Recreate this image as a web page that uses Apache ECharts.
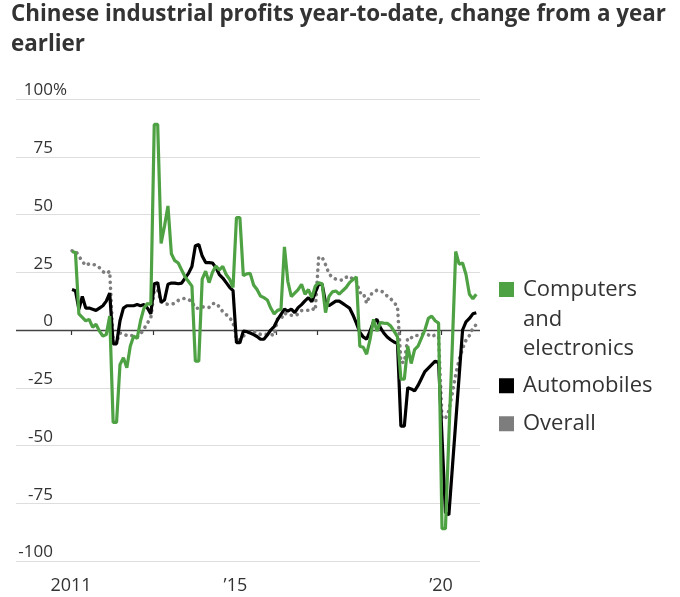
<!DOCTYPE html>
<html><head><meta charset="utf-8">
<script src="https://cdn.jsdelivr.net/npm/echarts@6/dist/echarts.min.js"></script>
<style>html,body{margin:0;padding:0;background:#fff}#c{width:680px;height:597px}</style>
</head><body><div id="c"></div>
<script>
// Monthly year-to-date values, Jan 2011 .. Nov 2020 (Jan shows the Jan-Feb figure)
const startYear = 2011;
const computers = [
  34, 33.5, 7, 5.5, 4, 4.6, 1.2, 2.5, -0.5, -2.6, -2, 6,
  -40, -40, -15, -12, -16.3, -7, -2.6, -3.7, 4, 9.5, 11.5, 11,
  89, 89, 37.5, 45, 53.7, 33, 30, 29, 26, 23, 21, 19,
  -13.5, -13.5, 22, 25.5, 20.5, 25, 27.7, 26, 27.5, 24, 22, 18.4,
  48.7, 48.7, 23.5, 24.3, 24.5, 19.5, 17.5, 14.7, 14, 13, 9.5, 7,
  8.5, 9, 36, 21, 14.5, 16, 17.5, 19.8, 15.5, 17.5, 14, 19,
  20.5, 20, 7.5, 14.5, 16.5, 16.9, 15.5, 17, 18.4, 20.5, 21.8, 23,
  -7, -7.5, -10.5, -4, 4.6, -0.5, 3.2, 3, 2.9, 1.8, -0.5, -3,
  -21.3, -21.3, -7, -14.5, -8.5, -7, -3.5, 0, 5, 6, 4, 3,
  -86, -86, -46, -7, 34, 28.5, 29, 24, 15.5, 13.5, 15.5
];
const automobiles = [
  17.5, 17, 9, 14.5, 9.5, 9.5, 9, 8.5, 9.5, 10.5, 12.5, 16,
  -6, -6, 4, 9.5, 10.5, 10.5, 10.5, 11, 10.5, 11, 9.5, 7,
  20, 20.5, 12, 13, 19.8, 20.3, 20.3, 20, 20.3, 22.5, 24.5, 27.5,
  36.5, 37, 32, 29.2, 29.2, 29, 27, 24, 22.5, 20.5, 18.5, 17,
  -5.5, -5.5, -0.5, -0.7, -1.3, -2, -2.8, -4, -4, -2.2, 0, 1.5,
  4.5, 6.8, 9, 8.2, 9, 7.5, 9.7, 11, 12.6, 14, 12.2, 16.2,
  20, 19.8, 12, 10.5, 11.5, 12.5, 12.5, 11.5, 10.5, 9.5, 6.5, 3,
  -1, -3, -4, -0.5, 3.5, 4.6, 1, -1.3, -3, -4.2, -5.2, -5.8,
  -41.6, -41.6, -25, -25.5, -26.4, -24, -21, -18, -16.5, -15, -13.5, -14,
  null, -79, -80, -60, -40, -20, 0, 3.5, 5, 7, 7.5
];
const overall = [
  34.3, 34.3, 32, 29.7, 27.9, 28.7, 28.3, 28.2, 27, 25.3, 24.4, 25.4,
  -5.2, -5.2, -1.3, -1.6, -2.4, -2.2, -2.7, -3.1, -1.8, 0.5, 3, 5.3,
  17.2, 17.2, 12.1, 11.4, 11.1, 11.1, 11.6, 12.8, 13.5, 13.7, 13.2, 12.2,
  9.4, 9.4, 10.1, 9.6, 9.8, 11.4, 11.6, 10, 7.9, 6.7, 5.3, 3.3,
  -4.2, -4.2, -2.7, -1.3, -0.8, -0.7, -1, -1.9, -1.7, -2, -1.9, -2.3,
  4.8, 4.8, 7.4, 6.5, 6.4, 6.2, 6.9, 8.4, 8.4, 8.6, 9.4, 8.5,
  31.5, 31.5, 28.3, 24.4, 22.7, 22, 21.6, 21.6, 22.8, 23.3, 21.9, 21,
  16.1, 16.1, 11.6, 15, 16.5, 17.2, 17.1, 16.2, 14.7, 13.6, 11.8, 10.3,
  -14, -14, -3.3, -3.4, -2.3, -2.4, -1.7, -1.7, -2.1, -2.9, -2.1, -3.3,
  -38.3, -38.3, -35, -27.4, -19.3, -12.8, -8.1, -4.4, -2.4, 0.7, 2.4
];
const tickYears = [2011, 2012, 2013, 2014, 2015, 2016, 2017, 2018, 2019, 2020];
const labelYears = [2011, 2015, 2020];
const names = ['Computers and electronics', 'Automobiles', 'Overall'];
const titleText = 'Chinese industrial profits year-to-date, change from a year\nearlier';

const GREEN = '#4fa244', BLACK = '#000000', GRAY = '#7d7d7d', TXT = '#333333';
const FONT = "'Open Sans', 'DejaVu Sans', sans-serif";

function monthPos(i) { return startYear + Math.floor(i / 12) + ((i % 12) + 0.3) / 12; }
function pairs(arr) { return arr.map((v, i) => [monthPos(i), v]); }

const chart = echarts.init(document.getElementById('c'), null, {renderer: 'canvas'});
const legendBase = {
  orient: 'vertical', left: 499, padding: 0, selectedMode: false,
  itemWidth: 19, itemHeight: 15,
  textStyle: {fontFamily: FONT, fontSize: 22, color: TXT, lineHeight: 29.5},
  itemStyle: {borderWidth: 0}
};
chart.setOption({
  animation: false,
  title: {
    text: titleText, left: 11, top: 0, padding: 0,
    textStyle: {fontFamily: FONT, fontWeight: 'bold', fontSize: 22.4, color: TXT, lineHeight: 30}
  },
  legend: [
    Object.assign({}, legendBase, {
      top: 275, itemHeight: 88.5,
      data: [{name: names[0], icon: 'path://M0,7L15,7L15,22L0,22Z M0,0L0.01,0 M19,88.5L19.01,88.5', itemStyle: {color: GREEN, borderWidth: 0}}],
      formatter: () => 'Computers\nand\nelectronics'
    }),
    Object.assign({}, legendBase, {
      top: 371,
      data: [{name: names[1], icon: 'path://M0,0L15,0L15,15L0,15Z M19,15L19.01,15', itemStyle: {color: BLACK, borderWidth: 0}}]
    }),
    Object.assign({}, legendBase, {
      top: 409,
      data: [{name: names[2], icon: 'path://M0,0L15,0L15,15L0,15Z M19,15L19.01,15', itemStyle: {color: GRAY, borderWidth: 0}}]
    })
  ],
  grid: {left: 16, right: 200, top: 99, bottom: 36, containLabel: false},
  xAxis: {
    type: 'value', min: 2009.662, max: 2020.949,
    axisLine: {show: false}, splitLine: {show: false},
    axisTick: {show: true, customValues: tickYears, length: 5, lineStyle: {color: TXT, width: 1.2}},
    axisLabel: {
      customValues: labelYears, margin: 16, fontFamily: FONT, fontSize: 18, color: TXT,
      formatter: v => (v === 2011 ? '2011' : '\u2019' + String(v).slice(2))
    }
  },
  yAxis: {
    type: 'value', min: -100, max: 100, interval: 25,
    axisLine: {show: false}, axisTick: {show: false},
    splitLine: {show: true, lineStyle: {color: '#dedede', width: 1}},
    axisLabel: {
      margin: -37, verticalAlign: 'bottom', fontFamily: FONT, fontSize: 17, color: TXT,
      formatter: v => (v === 100 ? '{h|100%}' : String(v)),
      rich: {h: {padding: [0, -14, 0, 0], fontFamily: FONT, fontSize: 17, color: TXT}}
    }
  },
  series: [
    {
      name: names[2], type: 'line', data: pairs(overall), showSymbol: false, symbol: 'none',
      itemStyle: {color: GRAY},
      lineStyle: {color: GRAY, width: 3.6, type: [0.1, 6], cap: 'round'},
      z: 2,
      markLine: {
        silent: true, symbol: ['none', 'none'], label: {show: false}, z: 1,
        lineStyle: {color: '#444', width: 1.4, type: 'solid'},
        data: [{yAxis: 0}]
      }
    },
    {
      name: names[1], type: 'line', data: pairs(automobiles), showSymbol: false, symbol: 'none',
      connectNulls: true, itemStyle: {color: BLACK},
      lineStyle: {color: BLACK, width: 3.2}, z: 3
    },
    {
      name: names[0], type: 'line', data: pairs(computers), showSymbol: false, symbol: 'none',
      itemStyle: {color: GREEN},
      lineStyle: {color: GREEN, width: 3.2}, z: 4
    }
  ]
});
</script>
</body></html>
